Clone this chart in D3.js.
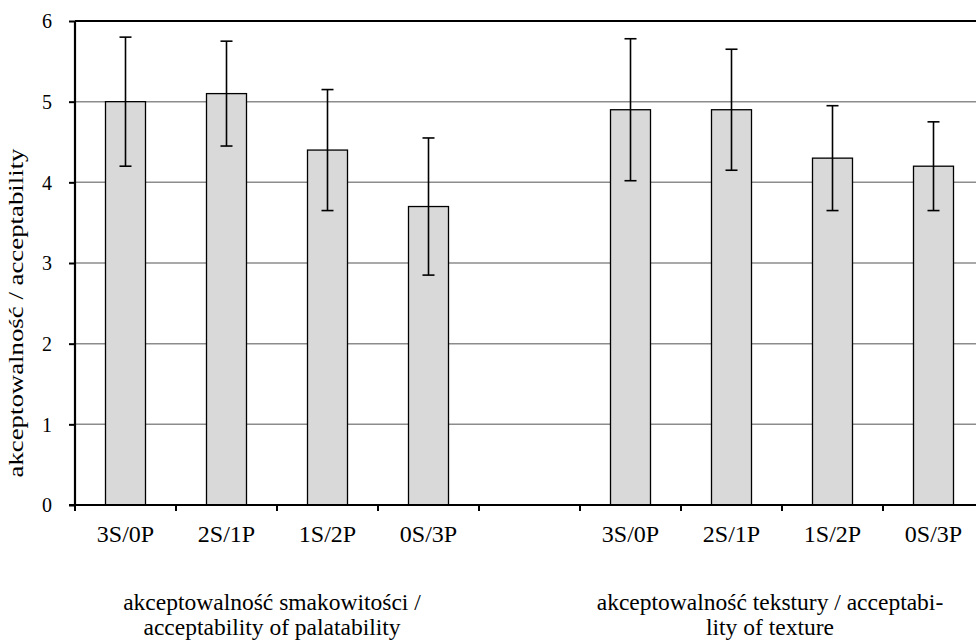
<!DOCTYPE html>
<html>
<head>
<meta charset="utf-8">
<script src="https://cdn.jsdelivr.net/npm/d3@7"></script>
<style>
  body { margin: 0; background: #fff; }
  svg text { font-family: "Liberation Serif", "DejaVu Serif", serif; fill: #000; }
</style>
</head>
<body>
<div id="chart"></div>
<script>
// variants of the blend, same in both groups
const variants = ["3S/0P", "2S/1P", "1S/2P", "0S/3P"];

// group labels, two lines each
const groupLabels = [
  ["akceptowalność smakowitości /", "acceptability of palatability"],
  ["akceptowalność tekstury / acceptabi-", "lity of texture"]
];

const palatability = [5.0, 5.1, 4.4, 3.7];
const palatabilityLow = [4.2, 4.45, 3.65, 2.85];
const palatabilityHigh = [5.8, 5.75, 5.15, 4.55];

const texture = [4.9, 4.9, 4.3, 4.2];
const textureLow = [4.02, 4.15, 3.65, 3.65];
const textureHigh = [5.78, 5.65, 4.95, 4.75];

const yTicks = [0, 1, 2, 3, 4, 5, 6];
const yTitle = "akceptowalność / acceptability";

const W = 976, H = 641;
const svg = d3.select("#chart").append("svg").attr("width", W).attr("height", H);

// 9 slots: 4 bars, one empty slot, 4 bars
const slots = variants.map((v, i) => "a" + i).concat(["gap"], variants.map((v, i) => "b" + i));
const x = d3.scaleBand().domain(slots).range([75, 984]).paddingInner(0).paddingOuter(0);
const y = d3.scaleLinear().domain([0, 6]).range([505, 21]);

const rows = [];
variants.forEach((v, i) => rows.push({slot: "a" + i, label: v, value: palatability[i], lo: palatabilityLow[i], hi: palatabilityHigh[i]}));
variants.forEach((v, i) => rows.push({slot: "b" + i, label: v, value: texture[i], lo: textureLow[i], hi: textureHigh[i]}));

// gridlines
svg.append("g").selectAll("line").data(yTicks.filter(t => t > 0 && t < 6))
  .join("line")
    .attr("x1", 75).attr("x2", 984)
    .attr("y1", d => y(d)).attr("y2", d => y(d))
    .attr("stroke", "#8c8c8c").attr("stroke-width", 1.5);

// top frame
svg.append("line")
  .attr("x1", 75).attr("x2", 984).attr("y1", y(6)).attr("y2", y(6))
  .attr("stroke", "#000").attr("stroke-width", 2);

const bw = 40;
svg.append("g").selectAll("rect").data(rows)
  .join("rect")
    .attr("x", d => x(d.slot) + x.bandwidth() / 2 - bw / 2)
    .attr("y", d => y(d.value))
    .attr("width", bw)
    .attr("height", d => y(0) - y(d.value))
    .attr("fill", "#d9d9d9")
    .attr("stroke", "#000").attr("stroke-width", 1.3);

// error bars
const err = svg.append("g").attr("stroke", "#000").attr("stroke-width", 1.6);
rows.forEach(d => {
  const cx = x(d.slot) + x.bandwidth() / 2;
  err.append("line").attr("x1", cx).attr("x2", cx).attr("y1", y(d.lo)).attr("y2", y(d.hi));
  err.append("line").attr("x1", cx - 6).attr("x2", cx + 6).attr("y1", y(d.lo)).attr("y2", y(d.lo));
  err.append("line").attr("x1", cx - 6).attr("x2", cx + 6).attr("y1", y(d.hi)).attr("y2", y(d.hi));
});

// y axis
const yAxis = svg.append("g").attr("transform", "translate(75,0)")
  .call(d3.axisLeft(y).tickValues(yTicks).tickSize(6).tickPadding(17).tickFormat(d3.format("d")));
yAxis.attr("font-family", null);
yAxis.select(".domain").attr("stroke", "#000").attr("stroke-width", 2.2).attr("d", `M0,${y(6)}V${y(0) + 1}`);
yAxis.selectAll(".tick line").attr("stroke", "#000").attr("stroke-width", 2);
yAxis.selectAll(".tick text").attr("font-size", 20).attr("dy", "0.34em");

// x axis: ticks at slot boundaries
const bounds = slots.map(s => x(s)).concat([x(slots[slots.length - 1]) + x.bandwidth()]);
const xAxis = svg.append("g");
xAxis.append("line").attr("x1", 69).attr("x2", 984).attr("y1", y(0)).attr("y2", y(0))
  .attr("stroke", "#000").attr("stroke-width", 2.2);
xAxis.selectAll("line.tk").data(bounds).join("line").attr("class", "tk")
  .attr("x1", d => d).attr("x2", d => d).attr("y1", y(0)).attr("y2", y(0) + 6)
  .attr("stroke", "#000").attr("stroke-width", 2);
xAxis.selectAll("text").data(rows).join("text")
  .attr("x", d => x(d.slot) + x.bandwidth() / 2)
  .attr("y", 542)
  .attr("text-anchor", "middle")
  .attr("font-size", 24)
  .text(d => d.label);

// group labels
const groupCenters = [
  (x("a0") + x("a3") + x.bandwidth()) / 2 - 5,
  (x("b0") + x("b3") + x.bandwidth()) / 2 - 12
];
groupLabels.forEach((lines, g) => {
  const t = svg.append("text").attr("text-anchor", "middle").attr("font-size", 23.5);
  lines.forEach((ln, k) => t.append("tspan").attr("x", groupCenters[g]).attr("y", 610 + k * 25).text(ln));
});

// y title (stretched along its length like the original)
svg.append("text")
  .attr("transform", `translate(23,${(y(0) + y(6)) / 2 + 50}) rotate(-90)`)
  .attr("text-anchor", "middle")
  .attr("font-size", 21)
  .attr("textLength", 329)
  .attr("lengthAdjust", "spacingAndGlyphs")
  .text(yTitle);
</script>
</body>
</html>
